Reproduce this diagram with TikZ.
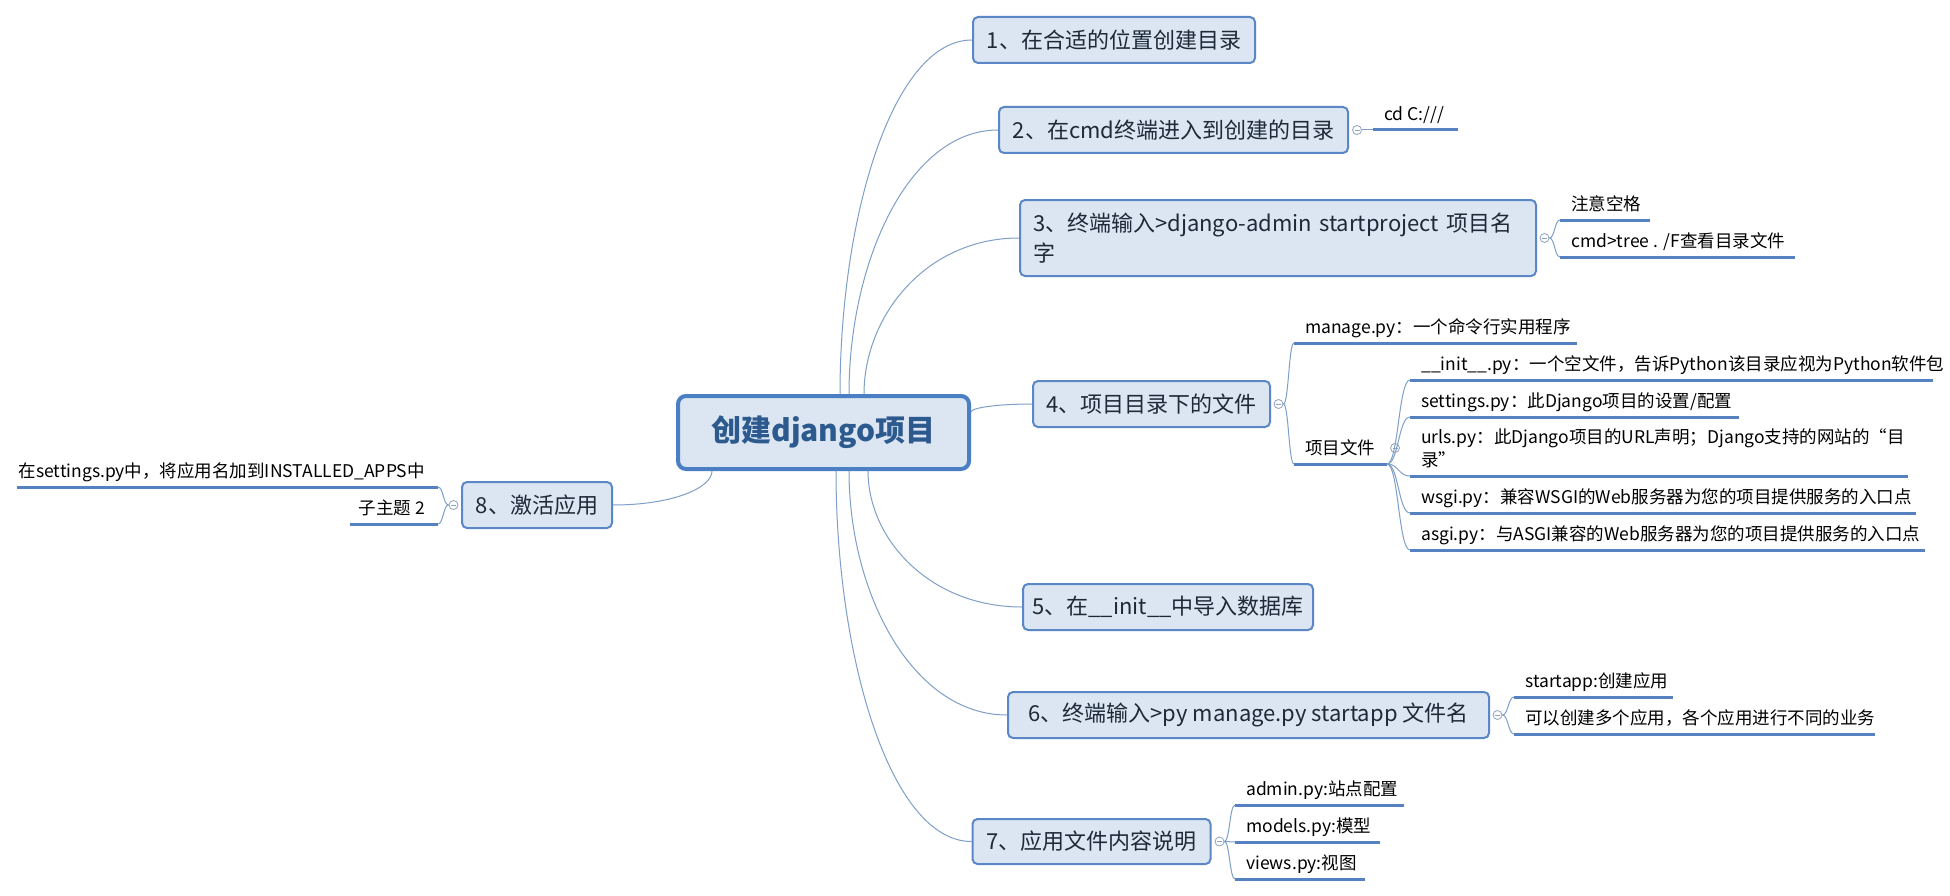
\documentclass[tikz,border=0pt]{standalone}
\usepackage{fontspec}
\setmainfont{Noto Sans CJK SC}
\usetikzlibrary{calc}
\definecolor{boxfill}{HTML}{DCE6F2}
\definecolor{boxline}{HTML}{5B87C6}
\definecolor{cenline}{HTML}{4A7FC4}
\definecolor{centext}{HTML}{2D5A8E}
\definecolor{maintext}{HTML}{1E2A38}
\definecolor{conncol}{HTML}{7F9FC8}
\definecolor{ulcol}{HTML}{5581C1}
\definecolor{btncol}{HTML}{8EA4BE}
\newcommand\mbranch[2]{\draw[conn] (#1) .. controls ($(#1)!0.5!(#1|-#2)$) and ($(#2)!0.6!(#1|-#2)$) .. (#2);}
\newcommand\lbranch[2]{\draw[conn] (#1) .. controls ($(#1)!0.5!(#1-|#2)$) and ($(#2)!0.5!(#2-|#1)$) .. (#2);}
\begin{document}
\begin{tikzpicture}[x=1pt,y=-1pt,
  central/.style={draw=cenline, line width=4pt, fill=boxfill, rounded corners=8pt,
    minimum width=291pt, minimum height=73pt, inner sep=0pt,
    font=\bfseries\fontsize{30}{36}\selectfont, text=centext},
  mainbox/.style={draw=boxline, line width=2pt, fill=boxfill, rounded corners=5pt,
    minimum height=46pt, inner sep=0pt, font=\fontsize{22}{30}\selectfont, text=maintext},
  btn/.style={circle, draw=btncol, fill=white, line width=0.8pt, minimum size=9pt, inner sep=0pt,
    path picture={\draw[btncol, line width=0.8pt] ([xshift=-2.5pt]path picture bounding box.center) -- ([xshift=2.5pt]path picture bounding box.center);}},
  leaf/.style={anchor=south west, inner xsep=11pt, inner ysep=4pt, text depth=5pt, align=left,
    font=\fontsize{17.5}{23}\selectfont, text=black},
  leafl/.style={leaf, anchor=south east, inner xsep=13pt, align=right},
  conn/.style={draw=conncol, line width=1pt},
  uline/.style={draw=ulcol, line width=3pt},
]
\useasboundingbox (0,0) rectangle (1950,896);
\fill[white] (0,0) rectangle (1950,896);

% main topics
\node[central] (c) at (823.5,432.5) {创建django项目};
\coordinate (s1) at ([xshift=16.5pt]c.north);
\coordinate (s2) at ([xshift=25.5pt]c.north);
\coordinate (s3) at ([xshift=40.5pt]c.north);
\coordinate (s4) at ([yshift=20.5pt]c.east);
\coordinate (s5) at ([xshift=44.5pt]c.south);
\coordinate (s6) at ([xshift=25.5pt]c.south);
\coordinate (s7) at ([xshift=12.5pt]c.south);
\coordinate (s8) at ([xshift=-111.5pt]c.south);

\node[mainbox, minimum width=282pt] (b1) at (1114,40) {1、在合适的位置创建目录};
\node[mainbox, minimum width=349pt] (b2) at (1173.5,130) {2、在cmd终端进入到创建的目录};
\node[mainbox, minimum width=516pt, minimum height=76pt, text width=490pt, align=left] (b3) at (1278,238)
  {\mbox{3、终端输入>django-admin startproject 项目名}\\字};
\node[mainbox, minimum width=237pt] (b4) at (1151.5,404) {4、项目目录下的文件};
\node[mainbox, minimum width=290pt] (b5) at (1168,607) {5、在\_\_init\_\_中导入数据库};
\node[mainbox, minimum width=481pt] (b6) at (1248.5,715) {6、终端输入>py manage.py startapp 文件名};
\node[mainbox, minimum width=238pt, minimum height=45pt] (b7) at (1091.5,841.5) {7、应用文件内容说明};
\node[mainbox, minimum width=150pt] (b8) at (537,505) {8、激活应用};

% collapse buttons
\node[btn] (k2) at ($(b2.east)+(8,0)$) {};
\node[btn] (k3) at ($(b3.east)+(7.5,0)$) {};
\node[btn] (k4) at ($(b4.east)+(7.5,0)$) {};
\node[btn] (k6) at ($(b6.east)+(7.5,0)$) {};
\node[btn] (k7) at ($(b7.east)+(8,0)$) {};
\node[btn] (k8) at ($(b8.west)+(-7.5,0)$) {};

% leaves
\node[leaf] (l1) at (1373,130) {cd C:///};
\node[leaf] (l2) at (1560,220) {注意空格};
\node[leaf] (l3) at (1560,257) {cmd>tree . /F查看目录文件};
\node[leaf] (l4) at (1294,343) {manage.py：一个命令行实用程序};
\node[leaf] (l5) at (1294,464) {项目文件};
\node[leaf] (l6) at (1410,380) {\_\_init\_\_.py：一个空文件，告诉Python该目录应视为Python软件包};
\node[leaf] (l7) at (1410,417) {settings.py：此Django项目的设置/配置};
\node[leaf] (l8) at (1410,476) {urls.py：此Django项目的URL声明；Django支持的网站的“目\\录”};
\node[leaf] (l9) at (1410,513) {wsgi.py：兼容WSGI的Web服务器为您的项目提供服务的入口点};
\node[leaf] (l10) at (1410,550) {asgi.py：与ASGI兼容的Web服务器为您的项目提供服务的入口点};
\node[leaf] (l11) at (1514,697) {startapp:创建应用};
\node[leaf] (l12) at (1514,734) {可以创建多个应用，各个应用进行不同的业务};
\node[leaf] (l13) at (1235,805) {admin.py:站点配置};
\node[leaf] (l14) at (1235,842) {models.py:模型};
\node[leaf] (l15) at (1235,879) {views.py:视图};
\node[leafl] (l16) at (438,487) {在settings.py中，将应用名加到INSTALLED\_APPS中};
\node[leafl] (l17) at (438,524) {子主题 2};

\coordinate (e5) at ($(l5.south west)+(93,0)$);
\node[btn] (k5) at (1395,448) {};

% underlines
\draw[uline] (l1.south west) -- ++(85,0);
\draw[uline] (l2.south west) -- ++(90,0);
\draw[uline] (l3.south west) -- ++(235,0);
\draw[uline] (l4.south west) -- ++(283,0);
\draw[uline] (l5.south west) -- (e5);
\draw[uline] (l6.south west) -- ++(523,0);
\draw[uline] (l7.south west) -- ++(329,0);
\draw[uline] (l8.south west) -- ++(498,0);
\draw[uline] (l9.south west) -- ++(506,0);
\draw[uline] (l10.south west) -- ++(515,0);
\draw[uline] (l11.south west) -- ++(159,0);
\draw[uline] (l12.south west) -- ++(361,0);
\draw[uline] (l13.south west) -- ++(169,0);
\draw[uline] (l14.south west) -- ++(145,0);
\draw[uline] (l15.south west) -- ++(130,0);
\draw[uline] (l16.south east) -- ++(-421,0);
\draw[uline] (l17.south east) -- ++(-88,0);

% connectors central -> main
\begin{scope}[on background layer/.try]
\end{scope}
\mbranch{s1}{b1.west}
\mbranch{s2}{b2.west}
\mbranch{s3}{b3.west}
\mbranch{s4}{b4.west}
\mbranch{s5}{b5.west}
\mbranch{s6}{b6.west}
\mbranch{s7}{b7.west}
\mbranch{s8}{b8.east}

% connectors main -> leaves
\lbranch{k2.east}{l1.south west}
\lbranch{k3.east}{l2.south west}
\lbranch{k3.east}{l3.south west}
\lbranch{k4.east}{l4.south west}
\lbranch{k4.east}{l5.south west}
\lbranch{e5}{l6.south west}
\lbranch{e5}{l7.south west}
\lbranch{e5}{l8.south west}
\lbranch{e5}{l9.south west}
\lbranch{e5}{l10.south west}
\lbranch{k6.east}{l11.south west}
\lbranch{k6.east}{l12.south west}
\lbranch{k7.east}{l13.south west}
\lbranch{k7.east}{l14.south west}
\lbranch{k7.east}{l15.south west}
\lbranch{k8.west}{l16.south east}
\lbranch{k8.west}{l17.south east}
\end{tikzpicture}
\end{document}
